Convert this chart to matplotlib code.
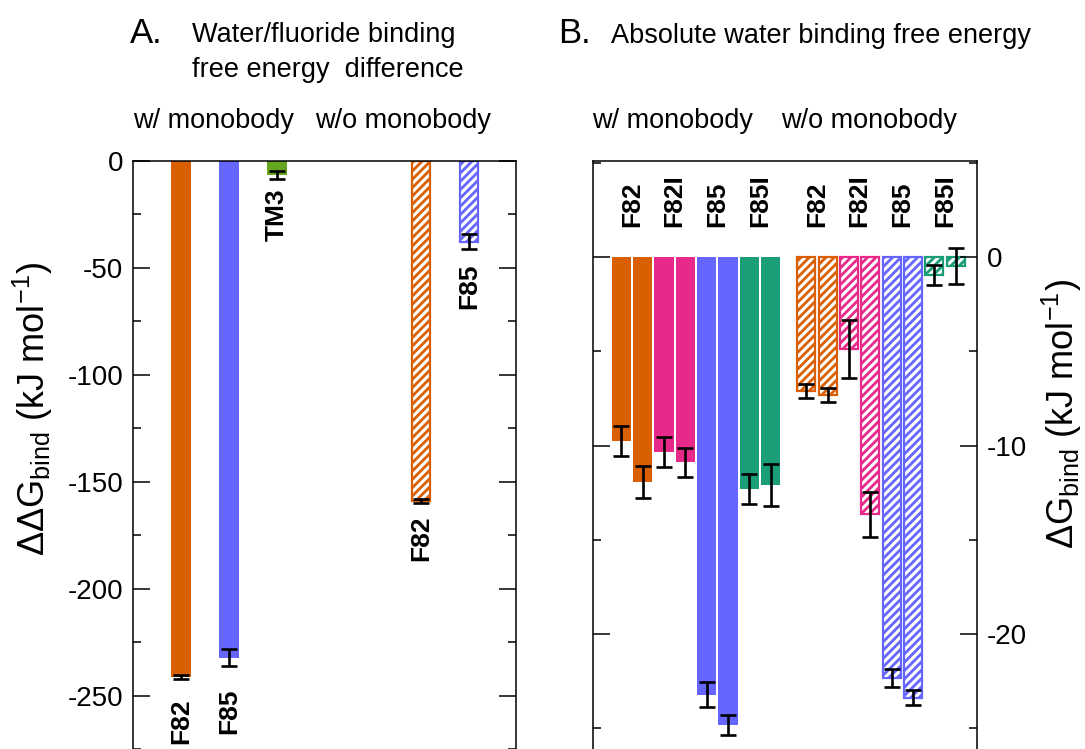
import matplotlib
matplotlib.use("Agg")
import matplotlib.pyplot as plt
import numpy as np

plt.rcParams['font.family'] = ['Liberation Sans', 'DejaVu Sans']
plt.rcParams['mathtext.fontset'] = 'custom'
plt.rcParams['mathtext.rm'] = 'Liberation Sans'
plt.rcParams['mathtext.it'] = 'Liberation Sans:italic'
plt.rcParams['mathtext.bf'] = 'Liberation Sans:bold'
plt.rcParams['axes.unicode_minus'] = False
plt.rcParams['hatch.linewidth'] = 2.0

# ----------------------------------
# DATA
# ----------------------------------
# panel A: water/fluoride binding free energy difference (kJ/mol)
a_labels = ["F82", "F85", "TM3", "F82", "F85"]
a_values = [-241.2, -232.3, -6.5, -159.0, -37.8]
a_errors = [1.0, 4.0, 1.9, 1.0, 3.5]
a_hatched = [False, False, False, True, True]

# panel B: absolute water binding free energy (kJ/mol), two runs per variant
b_variants = ["F82", "F82I", "F85", "F85I"]
b_with = [-9.77, -11.93, -10.36, -10.89, -23.22, -24.82, -12.30, -12.09]
b_with_err = [0.80, 0.87, 0.80, 0.78, 0.66, 0.55, 0.81, 1.09]
b_without = [-7.10, -7.33, -4.87, -13.65, -22.34, -23.37, -0.96, -0.46]
b_without_err = [0.39, 0.38, 1.54, 1.18, 0.47, 0.38, 0.52, 0.96]

# ----------------------------------
# STYLE
# ----------------------------------
ORANGE = "#d95f02"
PINK = "#e7298a"
BLUE = "#6666ff"
TEAL = "#1b9e77"
GREEN = "#66a61e"

a_colors = [ORANGE, BLUE, GREEN, ORANGE, BLUE]
a_label_gap = [14, 16, 7, 9, 10]
b_colors = [ORANGE, PINK, BLUE, TEAL]
HATCH = "////"

W, H = 1085, 749
fig = plt.figure(figsize=(W / 100, H / 100), dpi=100)


def px(x, y):
    return x / W, 1 - y / H


def style_axis(ax):
    for side in ["left", "right", "top"]:
        ax.spines[side].set_linewidth(1.1)
    ax.spines["bottom"].set_visible(False)
    ax.tick_params(axis="y", which="both", direction="in", left=True, right=True,
                   width=1.1, labelsize=20)
    ax.tick_params(axis="y", which="major", length=12)
    ax.tick_params(axis="y", which="minor", length=6)
    ax.set_xticks([])


def draw_err(ax, x, y, e):
    ax.errorbar(x, y, yerr=e, fmt="none", ecolor="black", elinewidth=1.9,
                capsize=6, capthick=1.9)


# ----------------------------------
# PANEL A
# ----------------------------------
axA = fig.add_axes([133 / W, 0, 383 / W, (H - 161) / H])
a_x = np.concatenate([1 + np.arange(3), 6 + np.arange(2)])

for xi, v, e, c, h, lab, gap in zip(a_x, a_values, a_errors, a_colors,
                                     a_hatched, a_labels, a_label_gap):
    if h:
        axA.bar(xi, v, width=0.37, facecolor="white", edgecolor=c,
                hatch=HATCH, linewidth=1.6)
    else:
        axA.bar(xi, v, width=0.4, color=c, linewidth=0)
    draw_err(axA, xi, v, e)
    axA.annotate(lab, xy=(xi, v - e), xytext=(0, -gap), textcoords="offset points",
                 rotation=90, rotation_mode="anchor", ha="right", va="center",
                 fontsize=19, fontweight="bold")

axA.set_xlim(0, 7.98)
axA.set_ylim(-273.2, 0)
axA.set_yticks([0, -50, -100, -150, -200, -250])
axA.set_yticks(np.arange(-275, 0, 25), minor=True)
style_axis(axA)
axA.tick_params(axis="y", labelleft=True, labelright=False, pad=7)

# ----------------------------------
# PANEL B
# ----------------------------------
axB = fig.add_axes([593 / W, 0, 384 / W, (H - 161) / H])
x_with = 1.33 + np.arange(8)
x_without = 10 + np.arange(8)
bar_colors = np.repeat(b_colors, 2)

axB.bar(x_with, b_with, width=0.91, color=bar_colors, linewidth=0)
axB.bar(x_without, b_without, width=0.85, facecolor="white",
        edgecolor=bar_colors, hatch=HATCH, linewidth=1.6)
draw_err(axB, x_with, b_with, b_with_err)
draw_err(axB, x_without, b_without, b_without_err)

for xs in [x_with, x_without]:
    mids = (xs[0::2] + xs[1::2]) / 2
    for xm, lab in zip(mids, b_variants):
        axB.annotate(lab, xy=(xm, 0), xytext=(0, 21.5), textcoords="offset points",
                     rotation=90, rotation_mode="anchor", ha="left", va="center",
                     fontsize=19, fontweight="bold")

axB.set_xlim(0, 18)
axB.set_ylim(-26.1, 5.1)
axB.set_yticks([0, -10, -20])
axB.set_yticks([5, -5, -15, -25], minor=True)
style_axis(axB)
axB.tick_params(axis="y", labelleft=False, labelright=True, pad=7)

# ----------------------------------
# TEXT
# ----------------------------------
fig.text(*px(33, 409), "ΔΔG$_{\\mathrm{bind}}$ (kJ mol$^{-1}$)", rotation=90,
         ha="center", va="center", fontsize=26)
fig.text(*px(1062, 414), "ΔG$_{\\mathrm{bind}}$ (kJ mol$^{-1}$)", rotation=90,
         ha="center", va="center", fontsize=26)

fig.text(*px(130, 43), "A.", fontsize=25, va="baseline")
fig.text(*px(192, 42), "Water/fluoride binding", fontsize=19.5, va="baseline")
fig.text(*px(192, 77), "free energy  difference", fontsize=19.5, va="baseline")
fig.text(*px(133, 128), "w/ monobody", fontsize=19.5, va="baseline")
fig.text(*px(315, 128), "w/o monobody", fontsize=19.5, va="baseline")

fig.text(*px(558, 43), "B.", fontsize=25, va="baseline")
fig.text(*px(611, 43), "Absolute water binding free energy", fontsize=19.5, va="baseline")
fig.text(*px(592, 128), "w/ monobody", fontsize=19.5, va="baseline")
fig.text(*px(781, 128), "w/o monobody", fontsize=19.5, va="baseline")

fig.savefig("out.png", dpi=100)
